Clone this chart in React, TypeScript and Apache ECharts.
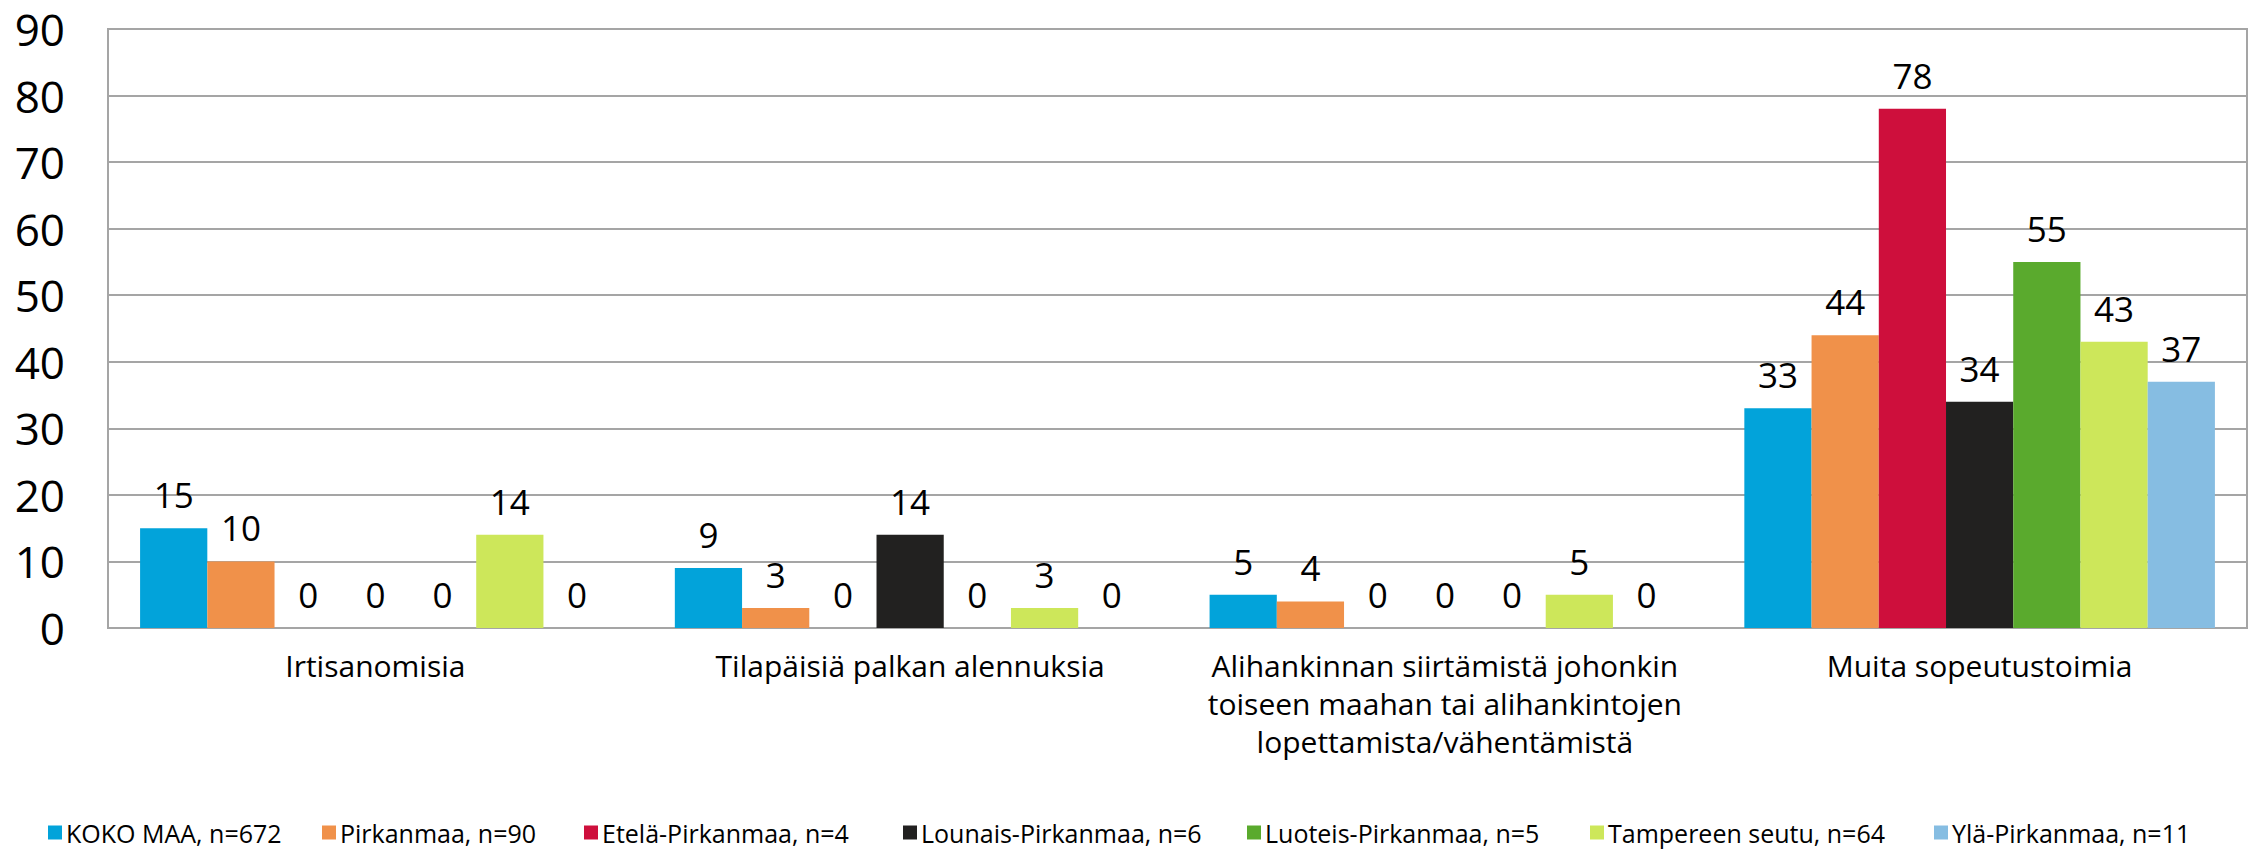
import React, { useEffect, useRef } from "react";
import * as echarts from "echarts";

const categories = [
  "Irtisanomisia",
  "Tilapäisiä palkan alennuksia",
  "Alihankinnan siirtämistä johonkin\ntoiseen maahan tai alihankintojen\nlopettamista/vähentämistä",
  "Muita sopeutustoimia",
];

const seriesNames = [
  "KOKO MAA, n=672",
  "Pirkanmaa, n=90",
  "Etelä-Pirkanmaa, n=4",
  "Lounais-Pirkanmaa, n=6",
  "Luoteis-Pirkanmaa, n=5",
  "Tampereen seutu, n=64",
  "Ylä-Pirkanmaa, n=11",
];

const kokoMaa = [15, 9, 5, 33];
const pirkanmaa = [10, 3, 4, 44];
const etelaPirkanmaa = [0, 0, 0, 78];
const lounaisPirkanmaa = [0, 14, 0, 34];
const luoteisPirkanmaa = [0, 0, 0, 55];
const tampereenSeutu = [14, 3, 5, 43];
const ylaPirkanmaa = [0, 0, 0, 37];

const seriesValues = [
  kokoMaa,
  pirkanmaa,
  etelaPirkanmaa,
  lounaisPirkanmaa,
  luoteisPirkanmaa,
  tampereenSeutu,
  ylaPirkanmaa,
];

const colors = ["#02A3DA", "#F0914A", "#CE0F3C", "#222120", "#5AAA2D", "#CDE75A", "#86BDE2"];

const yTicks = { min: 0, max: 90, interval: 10 };

// left edge of each legend entry's square, in pixels
const legendLefts = [48, 322, 584, 903, 1247, 1590, 1934];

const FONT = "'Open Sans', 'Noto Sans', sans-serif";

export default function App() {
  const ref = useRef<HTMLDivElement>(null);

  useEffect(() => {
    if (!ref.current) return;
    const chart = echarts.init(ref.current, undefined, { renderer: "svg" });
    chart.setOption({
      animation: false,
      backgroundColor: "#ffffff",
      color: colors,
      grid: {
        left: 108,
        right: 10,
        top: 29,
        bottom: 221,
        show: true,
        borderColor: "#A5A5A5",
        borderWidth: 2,
        containLabel: false,
      },
      legend: seriesNames.map((name, i) => ({
        left: legendLefts[i],
        top: 820,
        padding: 0,
        itemWidth: 14,
        itemHeight: 14,
        itemGap: 0,
        icon: "rect",
        textStyle: { fontFamily: FONT, fontSize: 25, color: "#000000", padding: [0, 0, 0, -1] },
        data: [name],
      })),
      xAxis: {
        type: "category",
        data: categories,
        axisLine: { show: true, lineStyle: { color: "#A5A5A5", width: 2 } },
        axisTick: { show: false },
        axisLabel: {
          interval: 0,
          margin: 18,
          color: "#000000",
          fontFamily: FONT,
          fontSize: 30,
          lineHeight: 38,
        },
      },
      yAxis: {
        type: "value",
        min: yTicks.min,
        max: yTicks.max,
        interval: yTicks.interval,
        axisLine: { show: true, lineStyle: { color: "#A5A5A5", width: 2 } },
        axisTick: { show: false },
        splitLine: { show: true, lineStyle: { color: "#A5A5A5", width: 2 } },
        axisLabel: {
          margin: 43,
          color: "#000000",
          fontFamily: FONT,
          fontSize: 44,
          lineHeight: 40,
        },
      },
      series: seriesNames.map((name, i) => ({
        name,
        type: "bar",
        data: seriesValues[i],
        barGap: "0%",
        barCategoryGap: "12%",
        itemStyle: { color: colors[i] },
        label: {
          show: true,
          position: "top",
          distance: 16,
          color: "#000000",
          fontFamily: FONT,
          fontSize: 35,
        },
      })),
    });
    return () => chart.dispose();
  }, []);

  return (
    <div
      ref={ref}
      style={{ position: "fixed", left: 0, top: 0, width: 2257, height: 849 }}
    />
  );
}
